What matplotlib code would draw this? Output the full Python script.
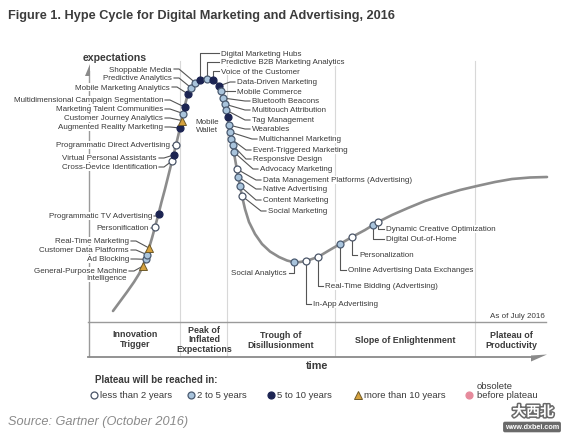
import numpy as np
import matplotlib
matplotlib.use("Agg")
import matplotlib.pyplot as plt
from matplotlib.patches import Polygon
import matplotlib.patheffects as pe

# ---------------- data (pixel units) ----------------
curve_x = [113, 120, 127, 134, 139, 143, 146, 149, 152, 155, 158.5, 161.5, 165, 168.5,
           172, 174, 176, 178, 180, 182, 184, 186, 188, 190, 192, 195, 198, 201, 204,
           207, 210, 213, 216, 219, 221, 223, 224.5, 226, 227.5, 228.8, 230, 231.3,
           232.5, 233.8, 235.3, 236.8, 238.3, 240, 242, 245, 249, 255, 262, 270, 279,
           287, 294, 300, 306, 312, 318, 328, 340, 352, 365, 378, 392, 408, 425, 443,
           460, 477, 495, 512, 530, 547]
curve_y = [312, 302.5, 293, 283, 275, 267, 259, 249, 239, 228, 215, 203, 190, 176,
           162, 154, 146, 137.5, 129, 119, 110, 102, 95, 90.5, 87, 83.5, 81.5, 80.3, 79.7,
           79.5, 79.8, 80.8, 83, 87, 92, 99, 105, 111, 118, 126, 133, 140,
           146, 153, 161.5, 170, 178, 187, 197, 210, 223, 235, 245, 252.5, 258,
           261.5, 263.3, 263, 262, 260, 258, 252, 245, 238, 231, 223, 216, 209, 202, 196,
           191, 187, 183, 180, 178.5, 178]

tech_names = [
    "General-Purpose Machine\nIntelligence", "Ad Blocking", "Customer Data Platforms",
    "Real-Time Marketing", "Personification", "Programmatic TV Advertising",
    "Cross-Device Identification", "Virtual Personal Assistants",
    "Programmatic Direct Advertising", "Augmented Reality Marketing",
    "Customer Journey Analytics", "Marketing Talent Communities",
    "Multidimensional Campaign Segmentation", "Mobile Marketing Analytics",
    "Predictive Analytics", "Shoppable Media",
    "Digital Marketing Hubs", "Predictive B2B Marketing Analytics", "Voice of the Customer",
    "Data-Driven Marketing", "Mobile Commerce", "Bluetooth Beacons", "Multitouch Attribution",
    "Tag Management", "Mobile\nWallet", "Wearables", "Multichannel Marketing",
    "Event-Triggered Marketing", "Responsive Design", "Advocacy Marketing",
    "Data Management Platforms (Advertising)", "Native Advertising", "Content Marketing",
    "Social Marketing",
    "Social Analytics", "In-App Advertising", "Real-Time Bidding (Advertising)",
    "Online Advertising Data Exchanges", "Personalization", "Digital Out-of-Home",
    "Dynamic Creative Optimization",
]
tech_x = [143, 145.5, 147, 149, 155, 158.5, 172, 173.5, 176, 180, 181.5, 183, 184.5, 188,
          191, 195, 200, 207, 213, 219, 221, 223, 224.5, 226, 227.5, 228.8, 230, 231.3,
          232.5, 233.8, 236.8, 238.3, 240, 242, 294, 306, 318, 340, 352, 373, 378]
tech_plateau = ["gt10", "2to5", "2to5", "gt10", "lt2", "5to10", "lt2", "5to10", "lt2",
                "5to10", "gt10", "2to5", "5to10", "5to10", "2to5", "2to5",
                "5to10", "2to5", "5to10", "5to10", "2to5", "2to5", "2to5", "2to5", "5to10",
                "2to5", "2to5", "2to5", "2to5", "2to5", "lt2", "2to5", "2to5", "lt2",
                "2to5", "lt2", "lt2", "2to5", "lt2", "2to5", "lt2"]

phase_names = ["Innovation\nTrigger", "Peak of\nInflated\nExpectations",
               "Trough of\nDisillusionment", "Slope of Enlightenment", "Plateau of\nProductivity"]
legend_keys = ["lt2", "2to5", "5to10", "gt10", "obs"]
legend_labels = ["less than 2 years", "2 to 5 years", "5 to 10 years",
                 "more than 10 years", "obsolete\nbefore plateau"]

# ---------------- layout ----------------
label_layout = [  # (x, y, style)
    (127, 272, "L"), (129, 260, "L"), (129, 251, "L"), (129, 242, "L"), (149, 229, "L"),
    (152, 217, "L"), (157, 168, "L"), (157, 159, "L"), (170, 146, "L"), (163, 128, "L"),
    (163, 119, "L"), (163, 110, "L"), (163, 101, "L"), (170, 88, "L"), (172, 79, "L"),
    (172, 70, "L"),
    (221, 54, "T"), (221, 63, "T"), (221, 72, "T"), (237, 83, "R"), (237, 92, "R"),
    (252, 102, "R"), (252, 111, "R"), (252, 121, "R"), (207, 126.5, "N"), (252, 130, "R"),
    (259, 140, "R"), (253, 151, "R"), (253, 160, "R"), (260, 170, "R"), (263, 181, "R"),
    (263, 190, "R"), (263, 201, "R"), (268, 212, "R"),
    (287, 274, "BL"), (313, 305, "B"), (325, 287, "B"), (348, 271, "B"), (359, 256, "B"),
    (386, 240, "B"), (386, 230, "B"),
]

styles = {
    "lt2": dict(marker="o", mfc="white", mec="#4a5568", ms=5.0, mew=0.9),
    "2to5": dict(marker="o", mfc="#a9c4dc", mec="#4a5a70", ms=5.0, mew=0.9),
    "5to10": dict(marker="o", mfc="#1c2452", mec="#1c2452", ms=5.0, mew=0.9),
    "gt10": dict(marker="^", mfc="#d6a23e", mec="#6e5a2a", ms=6.2, mew=0.7),
    "obs": dict(marker="o", mfc="#e68a9c", mec="#e68a9c", ms=5.0, mew=0.9),
}

FONT = "Liberation Sans"
TXT = "#3a3a3a"
LINE = "#555555"

fig = plt.figure(figsize=(5.71, 4.39), dpi=100)
ax = fig.add_axes([0, 0, 1, 1])
ax.set_xlim(0, 571)
ax.set_ylim(439, 0)
ax.axis("off")

# title
ax.text(8, 16, "Figure 1. Hype Cycle for Digital Marketing and Advertising, 2016",
        fontsize=9.2, fontweight="bold", color="#3c3c3c", family=FONT, va="center")

# phase dividers
for xd in [180, 227, 335, 475]:
    ax.plot([xd, xd], [62, 357], color="#d8d8d8", lw=0.8, zorder=1)

# axes
ax.plot([88.5, 88.5], [72, 357], color="#9a9a9a", lw=1.0, zorder=1)
ax.add_patch(Polygon([(84.5, 76.5), (89.5, 76.5), (89.5, 65)], closed=True,
                     fc="#8a8a8a", ec="none", zorder=1))
ax.text(115, 58, "expectations", fontsize=7.6, fontweight="bold", color=TXT,
        family=FONT, ha="center", va="center")
ax.plot([88, 546], [323, 323], color="#9a9a9a", lw=1.0, zorder=1)
ax.plot([88, 534], [357.5, 357.5], color="#8a8a8a", lw=1.3, zorder=1)
ax.add_patch(Polygon([(531, 356.5), (547, 355.5), (531, 362.5)], closed=True,
                     fc="#8a8a8a", ec="none", zorder=1))
ax.text(317, 366, "time", fontsize=7.8, fontweight="bold", color=TXT, family=FONT,
        ha="center", va="center")
ax.text(545, 317, "As of July 2016", fontsize=5.8, color=TXT, family=FONT,
        ha="right", va="center")

# phase names
phase_pos = [(135, 339.5), (204, 340), (281, 340.5), (405, 341), (511, 340.5)]
for name, (px, py) in zip(phase_names, phase_pos):
    ax.text(px, py, name, fontsize=6.4, fontweight="bold", color=TXT, family=FONT,
            ha="center", va="center", linespacing=1.05)

# curve
ax.plot(curve_x, curve_y, color="#8c8c8c", lw=1.9, zorder=4, solid_capstyle="round",
        solid_joinstyle="round")

# technologies
tech_y = np.interp(tech_x, curve_x, curve_y)
for name, tx, ty, cat, (lx, ly, st) in zip(tech_names, tech_x, tech_y, tech_plateau,
                                            label_layout):
    kw = dict(fontsize=5.8, color=TXT, family=FONT, va="center", zorder=3,
              bbox=dict(fc="white", ec="none", pad=0.3))
    if st == "L":
        ax.plot([lx + 2, lx + 7, tx], [ly, ly, ty], color=LINE, lw=0.8, zorder=2)
        if "\n" in name:
            ax.text(lx, ly - 4, name, ha="right", va="top", multialignment="right",
                    linespacing=1.1, **{k: v for k, v in kw.items() if k != "va"})
        else:
            ax.text(lx, ly, name, ha="right", **kw)
    elif st == "R":
        ax.plot([tx, lx - 7, lx - 2], [ty, ly, ly], color=LINE, lw=0.8, zorder=2)
        ax.text(lx, ly, name, ha="left", **kw)
    elif st == "T":
        ax.plot([lx - 2, tx, tx], [ly, ly, ty], color=LINE, lw=0.8, zorder=2)
        ax.text(lx, ly, name, ha="left", **kw)
    elif st == "B":
        ax.plot([tx, tx, lx - 2], [ty, ly, ly], color=LINE, lw=0.8, zorder=2)
        ax.text(lx, ly, name, ha="left", **kw)
    elif st == "BL":
        ax.plot([tx, tx, lx + 2], [ty, ly, ly], color=LINE, lw=0.8, zorder=2)
        ax.text(lx, ly, name, ha="right", **kw)
    else:
        ax.text(lx, ly, name, ha="center", linespacing=1.1,
                **{k: v for k, v in kw.items() if k != "bbox"})
    ax.plot([tx], [ty], zorder=5, linestyle="none", **styles[cat])

# legend
ax.text(95, 380, "Plateau will be reached in:", fontsize=7, fontweight="bold",
        color=TXT, family=FONT, va="center")
leg_marker_x = [94, 191, 271, 358, 469]
for key, lab, mx in zip(legend_keys, legend_labels, leg_marker_x):
    ax.plot([mx], [396], linestyle="none", **styles[key])
    if "\n" in lab:
        ax.text(mx + 8, 396 + 4, lab, fontsize=6.8, color=TXT, family=FONT,
                ha="left", va="bottom", linespacing=1.0)
    else:
        ax.text(mx + 6, 396, lab, fontsize=6.8, color=TXT, family=FONT,
                ha="left", va="center")

# source
ax.text(8, 422, "Source: Gartner (October 2016)", fontsize=9.2, style="italic",
        color="#8a8a8a", family=FONT, va="center")

# watermark
ax.text(533, 413, "大西北", fontsize=10, fontweight="bold", color="white",
        family=["Noto Sans CJK SC", "DejaVu Sans"], ha="center", va="center",
        path_effects=[pe.withStroke(linewidth=2.2, foreground="#6a6a6a")])
ax.text(532, 428, "www.dxbei.com", fontsize=5.2, fontweight="bold", color="white",
        family=FONT, ha="center", va="center",
        bbox=dict(boxstyle="round,pad=0.25", fc="#6a6a6a", ec="none"))

fig.savefig("out.png", dpi=100)
